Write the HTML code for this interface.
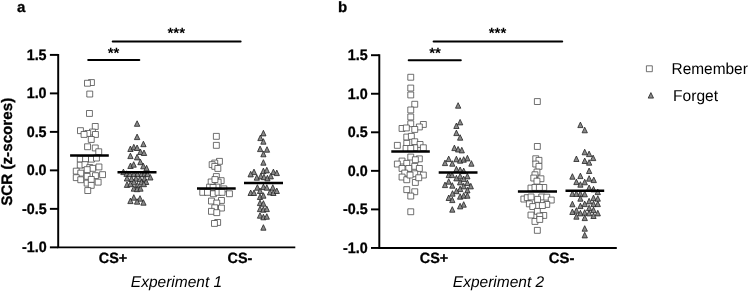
<!DOCTYPE html>
<html><head><meta charset="utf-8"><title>SCR</title>
<style>
html,body{margin:0;padding:0;background:#fff;}
body{width:750px;height:292px;overflow:hidden;font-family:"Liberation Sans",sans-serif;}
svg{display:block;will-change:transform}
text{font-family:"Liberation Sans",sans-serif;fill:#000;text-rendering:geometricPrecision}
.b{font-weight:bold}
.b,.tk,.cs{stroke:#000;stroke-width:0.3px}
.tk{font-weight:bold;font-size:15.2px;text-anchor:end}
.cs{font-weight:bold;font-size:15px;text-anchor:middle}
.ex{font-style:italic;font-size:15.5px;text-anchor:middle}
.st{font-size:15px;font-weight:bold;text-anchor:middle}
.lg{font-size:15.8px}
.ax{stroke:#000;stroke-width:1.95;fill:none}
.sig{stroke:#000;stroke-width:2;stroke-linecap:round}
.mean{stroke:#000;stroke-width:2.5}
.sq rect{fill:#fff;stroke:#484848;stroke-width:0.78;stroke-linejoin:round}
.tr path{fill:#8a8a8a;stroke:#222;stroke-width:0.8;stroke-linejoin:round}
</style></head><body>
<svg width="750" height="292" viewBox="0 0 750 292">
<rect width="750" height="292" fill="#fff"/>

<text class="b" x="17" y="12" font-size="15">a</text>
<text class="b" x="338" y="11.7" font-size="15">b</text>
<text class="b" font-size="15.2" text-anchor="middle" transform="translate(12.1,151.8) rotate(-90)">SCR (z-scores)</text>
<path class="ax" d="M58.2 53.93V247.35H295.3"/>
<line class="ax" x1="49.9" y1="54.90" x2="58.2" y2="54.90"/>
<text class="tk" x="46.6" y="59.7" textLength="19.9" lengthAdjust="spacingAndGlyphs">1.5</text>
<line class="ax" x1="49.9" y1="93.39" x2="58.2" y2="93.39"/>
<text class="tk" x="46.6" y="98.2" textLength="19.9" lengthAdjust="spacingAndGlyphs">1.0</text>
<line class="ax" x1="49.9" y1="131.88" x2="58.2" y2="131.88"/>
<text class="tk" x="46.6" y="136.7" textLength="19.9" lengthAdjust="spacingAndGlyphs">0.5</text>
<line class="ax" x1="49.9" y1="170.37" x2="58.2" y2="170.37"/>
<text class="tk" x="46.6" y="175.2" textLength="19.9" lengthAdjust="spacingAndGlyphs">0.0</text>
<line class="ax" x1="49.9" y1="208.86" x2="58.2" y2="208.86"/>
<text class="tk" x="46.6" y="213.7" textLength="24.65" lengthAdjust="spacingAndGlyphs">-0.5</text>
<line class="ax" x1="49.9" y1="247.35" x2="58.2" y2="247.35"/>
<text class="tk" x="46.6" y="252.2" textLength="24.65" lengthAdjust="spacingAndGlyphs">-1.0</text>
<path class="ax" d="M379.3 54.23V247.95H616.8"/>
<line class="ax" x1="371.0" y1="55.20" x2="379.3" y2="55.20"/>
<text class="tk" x="367.7" y="60.0" textLength="19.9" lengthAdjust="spacingAndGlyphs">1.5</text>
<line class="ax" x1="371.0" y1="93.75" x2="379.3" y2="93.75"/>
<text class="tk" x="367.7" y="98.5" textLength="19.9" lengthAdjust="spacingAndGlyphs">1.0</text>
<line class="ax" x1="371.0" y1="132.30" x2="379.3" y2="132.30"/>
<text class="tk" x="367.7" y="137.1" textLength="19.9" lengthAdjust="spacingAndGlyphs">0.5</text>
<line class="ax" x1="371.0" y1="170.85" x2="379.3" y2="170.85"/>
<text class="tk" x="367.7" y="175.7" textLength="19.9" lengthAdjust="spacingAndGlyphs">0.0</text>
<line class="ax" x1="371.0" y1="209.40" x2="379.3" y2="209.40"/>
<text class="tk" x="367.7" y="214.2" textLength="24.65" lengthAdjust="spacingAndGlyphs">-0.5</text>
<line class="ax" x1="371.0" y1="247.95" x2="379.3" y2="247.95"/>
<text class="tk" x="367.7" y="252.8" textLength="24.65" lengthAdjust="spacingAndGlyphs">-1.0</text>
<text class="cs" x="113" y="262.6" textLength="28.4" lengthAdjust="spacingAndGlyphs">CS+</text><text class="cs" x="240" y="262.6" textLength="24.8" lengthAdjust="spacingAndGlyphs">CS-</text>
<text class="cs" x="434" y="263" textLength="28.4" lengthAdjust="spacingAndGlyphs">CS+</text><text class="cs" x="561.6" y="263" textLength="25.6" lengthAdjust="spacingAndGlyphs">CS-</text>
<text class="ex" x="176.5" y="286.9">Experiment 1</text><text class="ex" x="498.5" y="287.3">Experiment 2</text>
<g class="sig"><line x1="112.7" y1="41.45" x2="240.6" y2="41.45"/><line x1="88.2" y1="60.05" x2="139.3" y2="60.05"/><line x1="433.6" y1="41.5" x2="562.2" y2="41.5"/><line x1="408.7" y1="60.2" x2="460.8" y2="60.2"/></g>
<text class="st" x="176.3" y="38.4">***</text><text class="st" x="113.6" y="58.4">**</text>
<text class="st" x="497.5" y="38.4">***</text><text class="st" x="435" y="58.4">**</text>
<g class="sq"><rect x="646.4" y="65.8" width="5.9" height="5.9"/></g><g class="tr"><path d="M650.9 92.6L653.5 98.1H648.2Z"/></g>
<text class="lg" x="671.5" y="73.8" textLength="76.3" lengthAdjust="spacingAndGlyphs">Remember</text><text class="lg" x="673.1" y="100.8" textLength="45" lengthAdjust="spacingAndGlyphs">Forget</text>
<g class="sq"><rect x="88.5" y="79.6" width="5.9" height="5.9"/><rect x="84.5" y="80.3" width="5.9" height="5.9"/><rect x="86.8" y="91.1" width="5.9" height="5.9"/><rect x="86.5" y="110.5" width="5.9" height="5.9"/><rect x="92.3" y="123.5" width="5.9" height="5.9"/><rect x="77.5" y="127.7" width="5.9" height="5.9"/><rect x="89.5" y="129.1" width="5.9" height="5.9"/><rect x="84.8" y="130.5" width="5.9" height="5.9"/><rect x="81.1" y="131.5" width="5.9" height="5.9"/><rect x="92.5" y="131.5" width="5.9" height="5.9"/><rect x="88.3" y="136.5" width="5.9" height="5.9"/><rect x="84.6" y="143.8" width="5.9" height="5.9"/><rect x="92.3" y="145.0" width="5.9" height="5.9"/><rect x="95.8" y="148.8" width="5.9" height="5.9"/><rect x="77.3" y="156.2" width="5.9" height="5.9"/><rect x="82.6" y="156.2" width="5.9" height="5.9"/><rect x="88.5" y="156.2" width="5.9" height="5.9"/><rect x="93.5" y="155.1" width="5.9" height="5.9"/><rect x="77.3" y="162.2" width="5.9" height="5.9"/><rect x="82.0" y="161.7" width="5.9" height="5.9"/><rect x="86.8" y="164.6" width="5.9" height="5.9"/><rect x="89.8" y="165.4" width="5.9" height="5.9"/><rect x="84.2" y="166.7" width="5.9" height="5.9"/><rect x="96.0" y="164.0" width="5.9" height="5.9"/><rect x="73.3" y="168.2" width="5.9" height="5.9"/><rect x="77.8" y="170.2" width="5.9" height="5.9"/><rect x="99.6" y="171.7" width="5.9" height="5.9"/><rect x="73.3" y="174.7" width="5.9" height="5.9"/><rect x="77.8" y="176.8" width="5.9" height="5.9"/><rect x="84.2" y="173.4" width="5.9" height="5.9"/><rect x="92.5" y="172.7" width="5.9" height="5.9"/><rect x="84.2" y="180.2" width="5.9" height="5.9"/><rect x="95.2" y="179.2" width="5.9" height="5.9"/><rect x="88.3" y="176.5" width="5.9" height="5.9"/><rect x="88.3" y="182.4" width="5.9" height="5.9"/><rect x="84.8" y="187.6" width="5.9" height="5.9"/><rect x="213.4" y="133.4" width="5.9" height="5.9"/><rect x="213.4" y="142.4" width="5.9" height="5.9"/><rect x="216.5" y="158.4" width="5.9" height="5.9"/><rect x="211.8" y="160.1" width="5.9" height="5.9"/><rect x="209.2" y="161.7" width="5.9" height="5.9"/><rect x="211.8" y="163.4" width="5.9" height="5.9"/><rect x="214.9" y="165.5" width="5.9" height="5.9"/><rect x="213.4" y="173.6" width="5.9" height="5.9"/><rect x="208.2" y="179.0" width="5.9" height="5.9"/><rect x="218.2" y="177.7" width="5.9" height="5.9"/><rect x="215.2" y="179.2" width="5.9" height="5.9"/><rect x="212.0" y="176.6" width="5.9" height="5.9"/><rect x="206.6" y="184.2" width="5.9" height="5.9"/><rect x="213.8" y="184.1" width="5.9" height="5.9"/><rect x="210.1" y="184.5" width="5.9" height="5.9"/><rect x="220.9" y="185.9" width="5.9" height="5.9"/><rect x="199.8" y="189.4" width="5.9" height="5.9"/><rect x="204.5" y="189.4" width="5.9" height="5.9"/><rect x="210.5" y="190.8" width="5.9" height="5.9"/><rect x="215.1" y="189.4" width="5.9" height="5.9"/><rect x="219.1" y="189.4" width="5.9" height="5.9"/><rect x="226.5" y="190.8" width="5.9" height="5.9"/><rect x="208.5" y="198.1" width="5.9" height="5.9"/><rect x="218.5" y="197.5" width="5.9" height="5.9"/><rect x="213.8" y="200.1" width="5.9" height="5.9"/><rect x="218.5" y="205.1" width="5.9" height="5.9"/><rect x="211.8" y="204.8" width="5.9" height="5.9"/><rect x="208.5" y="208.4" width="5.9" height="5.9"/><rect x="213.8" y="209.7" width="5.9" height="5.9"/><rect x="214.7" y="219.5" width="5.9" height="5.9"/><rect x="211.5" y="220.5" width="5.9" height="5.9"/><rect x="407.8" y="74.3" width="5.9" height="5.9"/><rect x="407.8" y="85.1" width="5.9" height="5.9"/><rect x="407.8" y="92.0" width="5.9" height="5.9"/><rect x="411.8" y="101.3" width="5.9" height="5.9"/><rect x="407.8" y="107.0" width="5.9" height="5.9"/><rect x="407.8" y="114.0" width="5.9" height="5.9"/><rect x="407.8" y="120.8" width="5.9" height="5.9"/><rect x="420.4" y="121.5" width="5.9" height="5.9"/><rect x="416.4" y="124.0" width="5.9" height="5.9"/><rect x="399.1" y="125.5" width="5.9" height="5.9"/><rect x="403.4" y="125.0" width="5.9" height="5.9"/><rect x="411.8" y="126.5" width="5.9" height="5.9"/><rect x="403.8" y="134.1" width="5.9" height="5.9"/><rect x="408.4" y="133.4" width="5.9" height="5.9"/><rect x="403.8" y="140.4" width="5.9" height="5.9"/><rect x="411.8" y="138.8" width="5.9" height="5.9"/><rect x="394.4" y="142.4" width="5.9" height="5.9"/><rect x="417.1" y="141.5" width="5.9" height="5.9"/><rect x="420.4" y="144.8" width="5.9" height="5.9"/><rect x="411.8" y="144.8" width="5.9" height="5.9"/><rect x="403.1" y="145.5" width="5.9" height="5.9"/><rect x="407.8" y="145.5" width="5.9" height="5.9"/><rect x="407.8" y="154.1" width="5.9" height="5.9"/><rect x="416.4" y="155.9" width="5.9" height="5.9"/><rect x="399.1" y="158.1" width="5.9" height="5.9"/><rect x="412.4" y="156.8" width="5.9" height="5.9"/><rect x="394.4" y="161.1" width="5.9" height="5.9"/><rect x="403.8" y="160.4" width="5.9" height="5.9"/><rect x="411.8" y="163.4" width="5.9" height="5.9"/><rect x="416.4" y="165.5" width="5.9" height="5.9"/><rect x="399.1" y="165.5" width="5.9" height="5.9"/><rect x="405.8" y="165.5" width="5.9" height="5.9"/><rect x="401.8" y="170.1" width="5.9" height="5.9"/><rect x="411.8" y="170.8" width="5.9" height="5.9"/><rect x="420.4" y="172.1" width="5.9" height="5.9"/><rect x="399.1" y="174.1" width="5.9" height="5.9"/><rect x="403.8" y="176.8" width="5.9" height="5.9"/><rect x="412.4" y="179.5" width="5.9" height="5.9"/><rect x="407.1" y="172.1" width="5.9" height="5.9"/><rect x="415.8" y="174.8" width="5.9" height="5.9"/><rect x="403.8" y="186.7" width="5.9" height="5.9"/><rect x="411.8" y="188.8" width="5.9" height="5.9"/><rect x="407.8" y="193.1" width="5.9" height="5.9"/><rect x="407.8" y="208.8" width="5.9" height="5.9"/><rect x="534.4" y="98.6" width="5.9" height="5.9"/><rect x="534.4" y="143.5" width="5.9" height="5.9"/><rect x="532.8" y="155.8" width="5.9" height="5.9"/><rect x="536.0" y="157.4" width="5.9" height="5.9"/><rect x="532.8" y="161.1" width="5.9" height="5.9"/><rect x="536.0" y="163.4" width="5.9" height="5.9"/><rect x="534.0" y="169.1" width="5.9" height="5.9"/><rect x="532.0" y="171.8" width="5.9" height="5.9"/><rect x="538.0" y="175.8" width="5.9" height="5.9"/><rect x="530.8" y="175.1" width="5.9" height="5.9"/><rect x="534.0" y="178.2" width="5.9" height="5.9"/><rect x="528.0" y="185.1" width="5.9" height="5.9"/><rect x="532.0" y="184.5" width="5.9" height="5.9"/><rect x="540.8" y="184.5" width="5.9" height="5.9"/><rect x="536.4" y="184.5" width="5.9" height="5.9"/><rect x="520.9" y="196.1" width="5.9" height="5.9"/><rect x="524.3" y="194.7" width="5.9" height="5.9"/><rect x="528.1" y="194.0" width="5.9" height="5.9"/><rect x="538.8" y="194.0" width="5.9" height="5.9"/><rect x="543.8" y="194.2" width="5.9" height="5.9"/><rect x="548.3" y="197.1" width="5.9" height="5.9"/><rect x="526.4" y="200.9" width="5.9" height="5.9"/><rect x="543.8" y="201.5" width="5.9" height="5.9"/><rect x="534.6" y="202.6" width="5.9" height="5.9"/><rect x="529.8" y="203.6" width="5.9" height="5.9"/><rect x="539.4" y="202.6" width="5.9" height="5.9"/><rect x="534.6" y="196.4" width="5.9" height="5.9"/><rect x="534.4" y="208.4" width="5.9" height="5.9"/><rect x="528.0" y="212.1" width="5.9" height="5.9"/><rect x="540.8" y="212.5" width="5.9" height="5.9"/><rect x="536.8" y="213.1" width="5.9" height="5.9"/><rect x="532.0" y="218.5" width="5.9" height="5.9"/><rect x="536.8" y="216.5" width="5.9" height="5.9"/><rect x="534.4" y="227.4" width="5.9" height="5.9"/></g>
<g class="tr"><path d="M137.1 120.8L139.8 126.3H134.4Z"/><path d="M137.1 134.1L139.8 139.6H134.4Z"/><path d="M143.4 141.2L146.1 146.7H140.8Z"/><path d="M130.4 146.0L133.1 151.5H127.8Z"/><path d="M133.8 144.3L136.5 149.9H131.2Z"/><path d="M137.1 145.0L139.8 150.5H134.4Z"/><path d="M140.4 149.0L143.1 154.5H137.8Z"/><path d="M144.0 150.0L146.7 155.5H141.3Z"/><path d="M130.4 153.1L133.1 158.6H127.8Z"/><path d="M137.1 154.3L139.8 159.9H134.4Z"/><path d="M140.4 159.2L143.1 164.7H137.8Z"/><path d="M130.5 163.0L133.2 168.5H127.8Z"/><path d="M133.7 161.7L136.3 167.2H131.0Z"/><path d="M143.3 163.2L146.0 168.8H140.7Z"/><path d="M146.6 165.3L149.2 170.9H143.9Z"/><path d="M123.4 169.1L126.1 174.6H120.8Z"/><path d="M126.6 170.8L129.2 176.4H123.9Z"/><path d="M129.8 171.2L132.5 176.7H127.2Z"/><path d="M133.9 171.2L136.6 176.7H131.2Z"/><path d="M137.3 171.2L140.0 176.7H134.7Z"/><path d="M141.4 171.2L144.1 176.7H138.8Z"/><path d="M144.5 171.2L147.2 176.7H141.8Z"/><path d="M147.6 171.2L150.2 176.7H144.9Z"/><path d="M150.3 174.5L153.0 180.0H147.7Z"/><path d="M127.0 175.5L129.7 181.0H124.3Z"/><path d="M131.5 176.0L134.2 181.5H128.8Z"/><path d="M136.0 175.7L138.7 181.2H133.3Z"/><path d="M140.0 176.2L142.7 181.7H137.3Z"/><path d="M144.5 175.7L147.2 181.2H141.8Z"/><path d="M133.9 179.2L136.6 184.8H131.2Z"/><path d="M141.4 179.2L144.1 184.8H138.8Z"/><path d="M146.2 179.0L148.8 184.5H143.5Z"/><path d="M127.0 181.8L129.7 187.4H124.3Z"/><path d="M130.4 181.2L133.1 186.7H127.8Z"/><path d="M137.3 182.3L140.0 187.9H134.7Z"/><path d="M143.8 181.2L146.5 186.7H141.2Z"/><path d="M133.8 185.7L136.5 191.2H131.2Z"/><path d="M137.1 186.2L139.8 191.7H134.4Z"/><path d="M140.4 185.7L143.1 191.2H137.8Z"/><path d="M133.8 194.7L136.5 200.2H131.2Z"/><path d="M140.0 195.7L142.7 201.2H137.3Z"/><path d="M130.4 198.1L133.1 203.6H127.8Z"/><path d="M137.1 198.7L139.8 204.2H134.4Z"/><path d="M143.4 199.7L146.1 205.2H140.8Z"/><path d="M263.4 130.3L266.0 135.9H260.8Z"/><path d="M260.4 135.1L263.0 140.6H257.8Z"/><path d="M263.4 138.7L266.0 144.2H260.8Z"/><path d="M260.1 146.1L262.8 151.6H257.5Z"/><path d="M267.0 146.7L269.6 152.2H264.4Z"/><path d="M263.4 151.2L266.0 156.8H260.8Z"/><path d="M263.4 159.7L266.0 165.2H260.8Z"/><path d="M254.0 169.1L256.6 174.6H251.3Z"/><path d="M250.7 171.3L253.3 176.9H248.0Z"/><path d="M263.4 168.1L266.0 173.6H260.8Z"/><path d="M266.8 167.3L269.4 172.9H264.2Z"/><path d="M273.4 169.1L276.0 174.6H270.8Z"/><path d="M276.8 170.1L279.4 175.6H274.2Z"/><path d="M256.8 174.7L259.4 180.2H254.2Z"/><path d="M260.8 173.3L263.4 178.9H258.2Z"/><path d="M264.0 174.2L266.6 179.7H261.4Z"/><path d="M267.4 175.3L270.0 180.9H264.8Z"/><path d="M270.8 173.3L273.4 178.9H268.2Z"/><path d="M257.4 184.7L260.0 190.2H254.7Z"/><path d="M263.4 184.1L266.0 189.6H260.8Z"/><path d="M266.8 184.7L269.4 190.2H264.2Z"/><path d="M272.8 184.7L275.4 190.2H270.2Z"/><path d="M250.7 190.0L253.3 195.5H248.0Z"/><path d="M254.0 190.0L256.6 195.5H251.3Z"/><path d="M260.0 188.0L262.6 193.5H257.4Z"/><path d="M270.0 189.3L272.6 194.9H267.4Z"/><path d="M273.4 190.0L276.0 195.5H270.8Z"/><path d="M276.8 188.0L279.4 193.5H274.2Z"/><path d="M260.0 194.0L262.6 199.5H257.4Z"/><path d="M263.4 192.7L266.0 198.2H260.8Z"/><path d="M260.0 200.1L262.6 205.6H257.4Z"/><path d="M263.4 200.7L266.0 206.2H260.8Z"/><path d="M260.0 206.1L262.6 211.6H257.4Z"/><path d="M263.4 206.7L266.0 212.2H260.8Z"/><path d="M266.8 206.1L269.4 211.6H264.2Z"/><path d="M260.0 212.7L262.6 218.2H257.4Z"/><path d="M263.4 214.2L266.0 219.8H260.8Z"/><path d="M266.8 213.7L269.4 219.2H264.2Z"/><path d="M263.4 224.7L266.0 230.2H260.8Z"/><path d="M458.1 102.7L460.8 108.2H455.5Z"/><path d="M460.1 119.4L462.8 124.9H457.5Z"/><path d="M456.4 123.0L459.0 128.5H453.8Z"/><path d="M456.4 130.1L459.0 135.6H453.8Z"/><path d="M460.1 134.7L462.8 140.2H457.5Z"/><path d="M454.4 145.1L457.0 150.6H451.8Z"/><path d="M458.1 146.5L460.8 152.0H455.5Z"/><path d="M461.8 147.3L464.4 152.9H459.2Z"/><path d="M448.7 156.1L451.3 161.6H446.1Z"/><path d="M456.4 156.2L459.0 161.8H453.8Z"/><path d="M460.1 157.7L462.8 163.2H457.5Z"/><path d="M463.7 156.7L466.3 162.2H461.1Z"/><path d="M467.4 155.3L470.0 160.9H464.8Z"/><path d="M445.0 160.1L447.6 165.6H442.4Z"/><path d="M452.3 160.7L454.9 166.2H449.7Z"/><path d="M471.4 160.7L474.0 166.2H468.8Z"/><path d="M456.4 166.3L459.0 171.9H453.8Z"/><path d="M460.1 167.0L462.8 172.5H457.5Z"/><path d="M463.7 168.1L466.3 173.6H461.1Z"/><path d="M448.7 172.1L451.3 177.6H446.1Z"/><path d="M452.0 172.1L454.6 177.6H449.4Z"/><path d="M460.1 173.3L462.8 178.9H457.5Z"/><path d="M467.4 173.3L470.0 178.9H464.8Z"/><path d="M456.4 175.3L459.0 180.9H453.8Z"/><path d="M463.7 176.1L466.3 181.6H461.1Z"/><path d="M448.7 178.7L451.3 184.2H446.1Z"/><path d="M460.1 179.3L462.8 184.9H457.5Z"/><path d="M467.4 180.1L470.0 185.6H464.8Z"/><path d="M445.0 182.1L447.6 187.6H442.4Z"/><path d="M452.3 182.7L454.9 188.2H449.7Z"/><path d="M463.7 183.3L466.3 188.9H461.1Z"/><path d="M470.8 183.3L473.4 188.9H468.2Z"/><path d="M460.1 186.1L462.8 191.6H457.5Z"/><path d="M467.4 187.3L470.0 192.9H464.8Z"/><path d="M456.4 188.2L459.0 193.7H453.8Z"/><path d="M452.5 190.7L455.1 196.2H449.9Z"/><path d="M448.7 195.0L451.3 200.5H446.1Z"/><path d="M452.3 197.1L454.9 202.6H449.7Z"/><path d="M460.1 193.7L462.8 199.2H457.5Z"/><path d="M463.7 192.7L466.3 198.2H461.1Z"/><path d="M467.4 192.7L470.0 198.2H464.8Z"/><path d="M463.7 201.7L466.3 207.2H461.1Z"/><path d="M460.1 203.3L462.8 208.9H457.5Z"/><path d="M452.3 206.7L454.9 212.2H449.7Z"/><path d="M580.4 122.1L583.0 127.6H577.8Z"/><path d="M584.7 127.2L587.4 132.8H582.1Z"/><path d="M584.7 149.2L587.4 154.8H582.1Z"/><path d="M589.1 151.1L591.8 156.6H586.5Z"/><path d="M593.1 155.1L595.8 160.6H590.5Z"/><path d="M576.4 156.0L579.0 161.5H573.8Z"/><path d="M584.7 158.0L587.4 163.5H582.1Z"/><path d="M589.1 159.7L591.8 165.2H586.5Z"/><path d="M589.1 168.0L591.8 173.5H586.5Z"/><path d="M572.4 173.7L575.0 179.2H569.8Z"/><path d="M580.4 173.1L583.0 178.6H577.8Z"/><path d="M589.1 175.7L591.8 181.2H586.5Z"/><path d="M593.8 177.1L596.4 182.6H591.1Z"/><path d="M576.4 179.1L579.0 184.6H573.8Z"/><path d="M584.7 179.2L587.4 184.8H582.1Z"/><path d="M580.4 181.7L583.0 187.2H577.8Z"/><path d="M589.1 185.0L591.8 190.5H586.5Z"/><path d="M593.5 186.3L596.1 191.9H590.9Z"/><path d="M597.8 189.1L600.4 194.6H595.1Z"/><path d="M572.4 190.8L575.0 196.4H569.8Z"/><path d="M576.4 190.8L579.0 196.4H573.8Z"/><path d="M580.4 190.8L583.0 196.4H577.8Z"/><path d="M584.7 191.2L587.4 196.8H582.1Z"/><path d="M580.4 195.7L583.0 201.2H577.8Z"/><path d="M593.5 195.1L596.1 200.6H590.9Z"/><path d="M597.8 195.7L600.4 201.2H595.1Z"/><path d="M589.1 198.3L591.8 203.9H586.5Z"/><path d="M572.4 201.2L575.0 206.8H569.8Z"/><path d="M584.7 201.1L587.4 206.6H582.1Z"/><path d="M580.4 203.1L583.0 208.6H577.8Z"/><path d="M593.5 201.1L596.1 206.6H590.9Z"/><path d="M597.8 201.1L600.4 206.6H595.1Z"/><path d="M589.1 205.2L591.8 210.7H586.5Z"/><path d="M576.4 207.7L579.0 213.2H573.8Z"/><path d="M593.5 207.1L596.1 212.6H590.9Z"/><path d="M572.4 209.0L575.0 214.5H569.8Z"/><path d="M580.4 210.3L583.0 215.9H577.8Z"/><path d="M584.7 209.7L587.4 215.2H582.1Z"/><path d="M589.1 210.3L591.8 215.9H586.5Z"/><path d="M597.8 210.3L600.4 215.9H595.1Z"/><path d="M576.4 213.7L579.0 219.2H573.8Z"/><path d="M593.5 213.0L596.1 218.5H590.9Z"/><path d="M584.7 215.1L587.4 220.6H582.1Z"/><path d="M584.7 225.7L587.4 231.2H582.1Z"/><path d="M584.7 232.3L587.4 237.9H582.1Z"/></g>
<g class="mean"><line x1="70.1" y1="155.4" x2="108.8" y2="155.4"/><line x1="117.5" y1="172.3" x2="156.5" y2="172.3"/><line x1="197" y1="188.5" x2="235.7" y2="188.5"/><line x1="244" y1="183" x2="283" y2="183"/><line x1="391.3" y1="151.4" x2="429.8" y2="151.4"/><line x1="438.7" y1="172.4" x2="477.5" y2="172.4"/><line x1="517.9" y1="191.6" x2="557" y2="191.6"/><line x1="565.5" y1="190.7" x2="604.2" y2="190.7"/></g>
</svg></body></html>
